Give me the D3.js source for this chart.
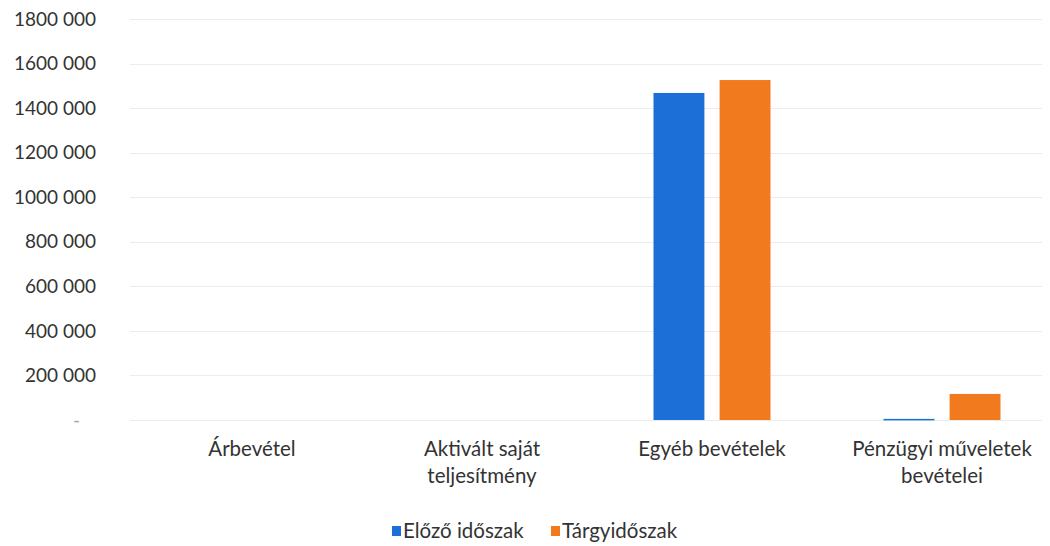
<!DOCTYPE html>
<html lang="hu">
  <head>
    <meta charset="UTF-8" />
    <script src="https://d3js.org/d3.v7.min.js"></script>
    <style>
      body { margin: 0; background: #fff; }
      text { font-family: Lato, "Open Sans", sans-serif; fill: #333; }
    </style>
  </head>
  <body>
    <div id="chart"></div>
    <script>
      // data
      var categories = [["Árbevétel"], ["Aktivált saját", "teljesítmény"], ["Egyéb bevételek"], ["Pénzügyi műveletek", "bevételei"]]
      var seriesNames = ["Előző időszak", "Tárgyidőszak"]
      var previous = [0, 0, 1468000, 5000]
      var current = [0, 0, 1526000, 117000]
      var yTicks = [0, 200000, 400000, 600000, 800000, 1000000, 1200000, 1400000, 1600000, 1800000]
      var colors = ["#1c6fd6", "#f27a1e"]

      var width = 1050, height = 546
      var plotLeft = 137, plotRight = 1057, plotTop = 19, plotBottom = 420

      var svg = d3.select("#chart").append("svg")
        .attr("width", width)
        .attr("height", height)

      var x = d3.scaleBand()
        .domain(d3.range(categories.length))
        .range([plotLeft, plotRight])

      var x1 = d3.scaleBand()
        .domain([0, 1])
        .range([0, 117])
        .paddingInner(0.23)

      var y = d3.scaleLinear()
        .domain([0, 1800000])
        .range([plotBottom, plotTop])

      // gridlines
      svg.append("g")
        .selectAll("line")
        .data(yTicks)
        .enter()
        .append("line")
          .attr("x1", 130)
          .attr("x2", 1042)
          .attr("y1", function(d) { return Math.round(y(d)) + 0.5 })
          .attr("y2", function(d) { return Math.round(y(d)) + 0.5 })
          .attr("stroke", "#ececec")
          .attr("stroke-width", 1)

      // y axis labels
      var fmt = function(d) {
        if (d === 0) return "-"
        var s = d3.format(",")(d).split(",")
        return s.slice(0, -1).join("") + " " + s[s.length - 1]
      }
      svg.append("g")
        .selectAll("text")
        .data(yTicks)
        .enter()
        .append("text")
          .attr("x", function(d) { return d === 0 ? 80 : 96 })
          .attr("y", function(d) { return y(d) })
          .attr("dy", "0.35em")
          .attr("text-anchor", "end")
          .style("font-size", "19px")
          .style("fill", function(d) { return d === 0 ? "#aaa" : "#333" })
          .text(fmt)

      // bars
      var groups = svg.append("g")
        .selectAll("g")
        .data(categories.map(function(c, i) { return [previous[i], current[i]] }))
        .enter()
        .append("g")
          .attr("transform", function(d, i) { return "translate(" + (x(i) + x.bandwidth() / 2 - 58.5) + ",0)" })

      groups.selectAll("rect")
        .data(function(d) { return d })
        .enter()
        .append("rect")
          .attr("x", function(d, j) { return x1(j) })
          .attr("width", x1.bandwidth())
          .attr("y", function(d) { return y(d) })
          .attr("height", function(d) { return d > 0 ? Math.max(1.5, plotBottom - y(d)) : 0 })
          .attr("fill", function(d, j) { return colors[j] })

      // category labels
      var labels = svg.append("g")
        .selectAll("text")
        .data(categories)
        .enter()
        .append("text")
          .attr("text-anchor", "middle")
          .attr("transform", function(d, i) { return "translate(" + (x(i) + x.bandwidth() / 2) + ",456)" })
          .style("font-size", "20.5px")

      labels.selectAll("tspan")
        .data(function(d) { return d })
        .enter()
        .append("tspan")
          .attr("x", 0)
          .attr("y", function(d, k) { return k * 27 })
          .text(function(d) { return d })

      // legend
      var legendX = [392, 551]
      var legend = svg.append("g")
        .selectAll("g")
        .data(seriesNames)
        .enter()
        .append("g")
          .attr("transform", function(d, i) { return "translate(" + legendX[i] + ",526)" })
      legend.append("rect")
        .attr("width", 9)
        .attr("height", 10)
        .attr("fill", function(d, i) { return colors[i] })
      legend.append("text")
        .attr("x", 11)
        .attr("y", 5)
        .attr("dy", "0.35em")
        .style("font-size", "20.5px")
        .text(function(d) { return d })
    </script>
  </body>
</html>
